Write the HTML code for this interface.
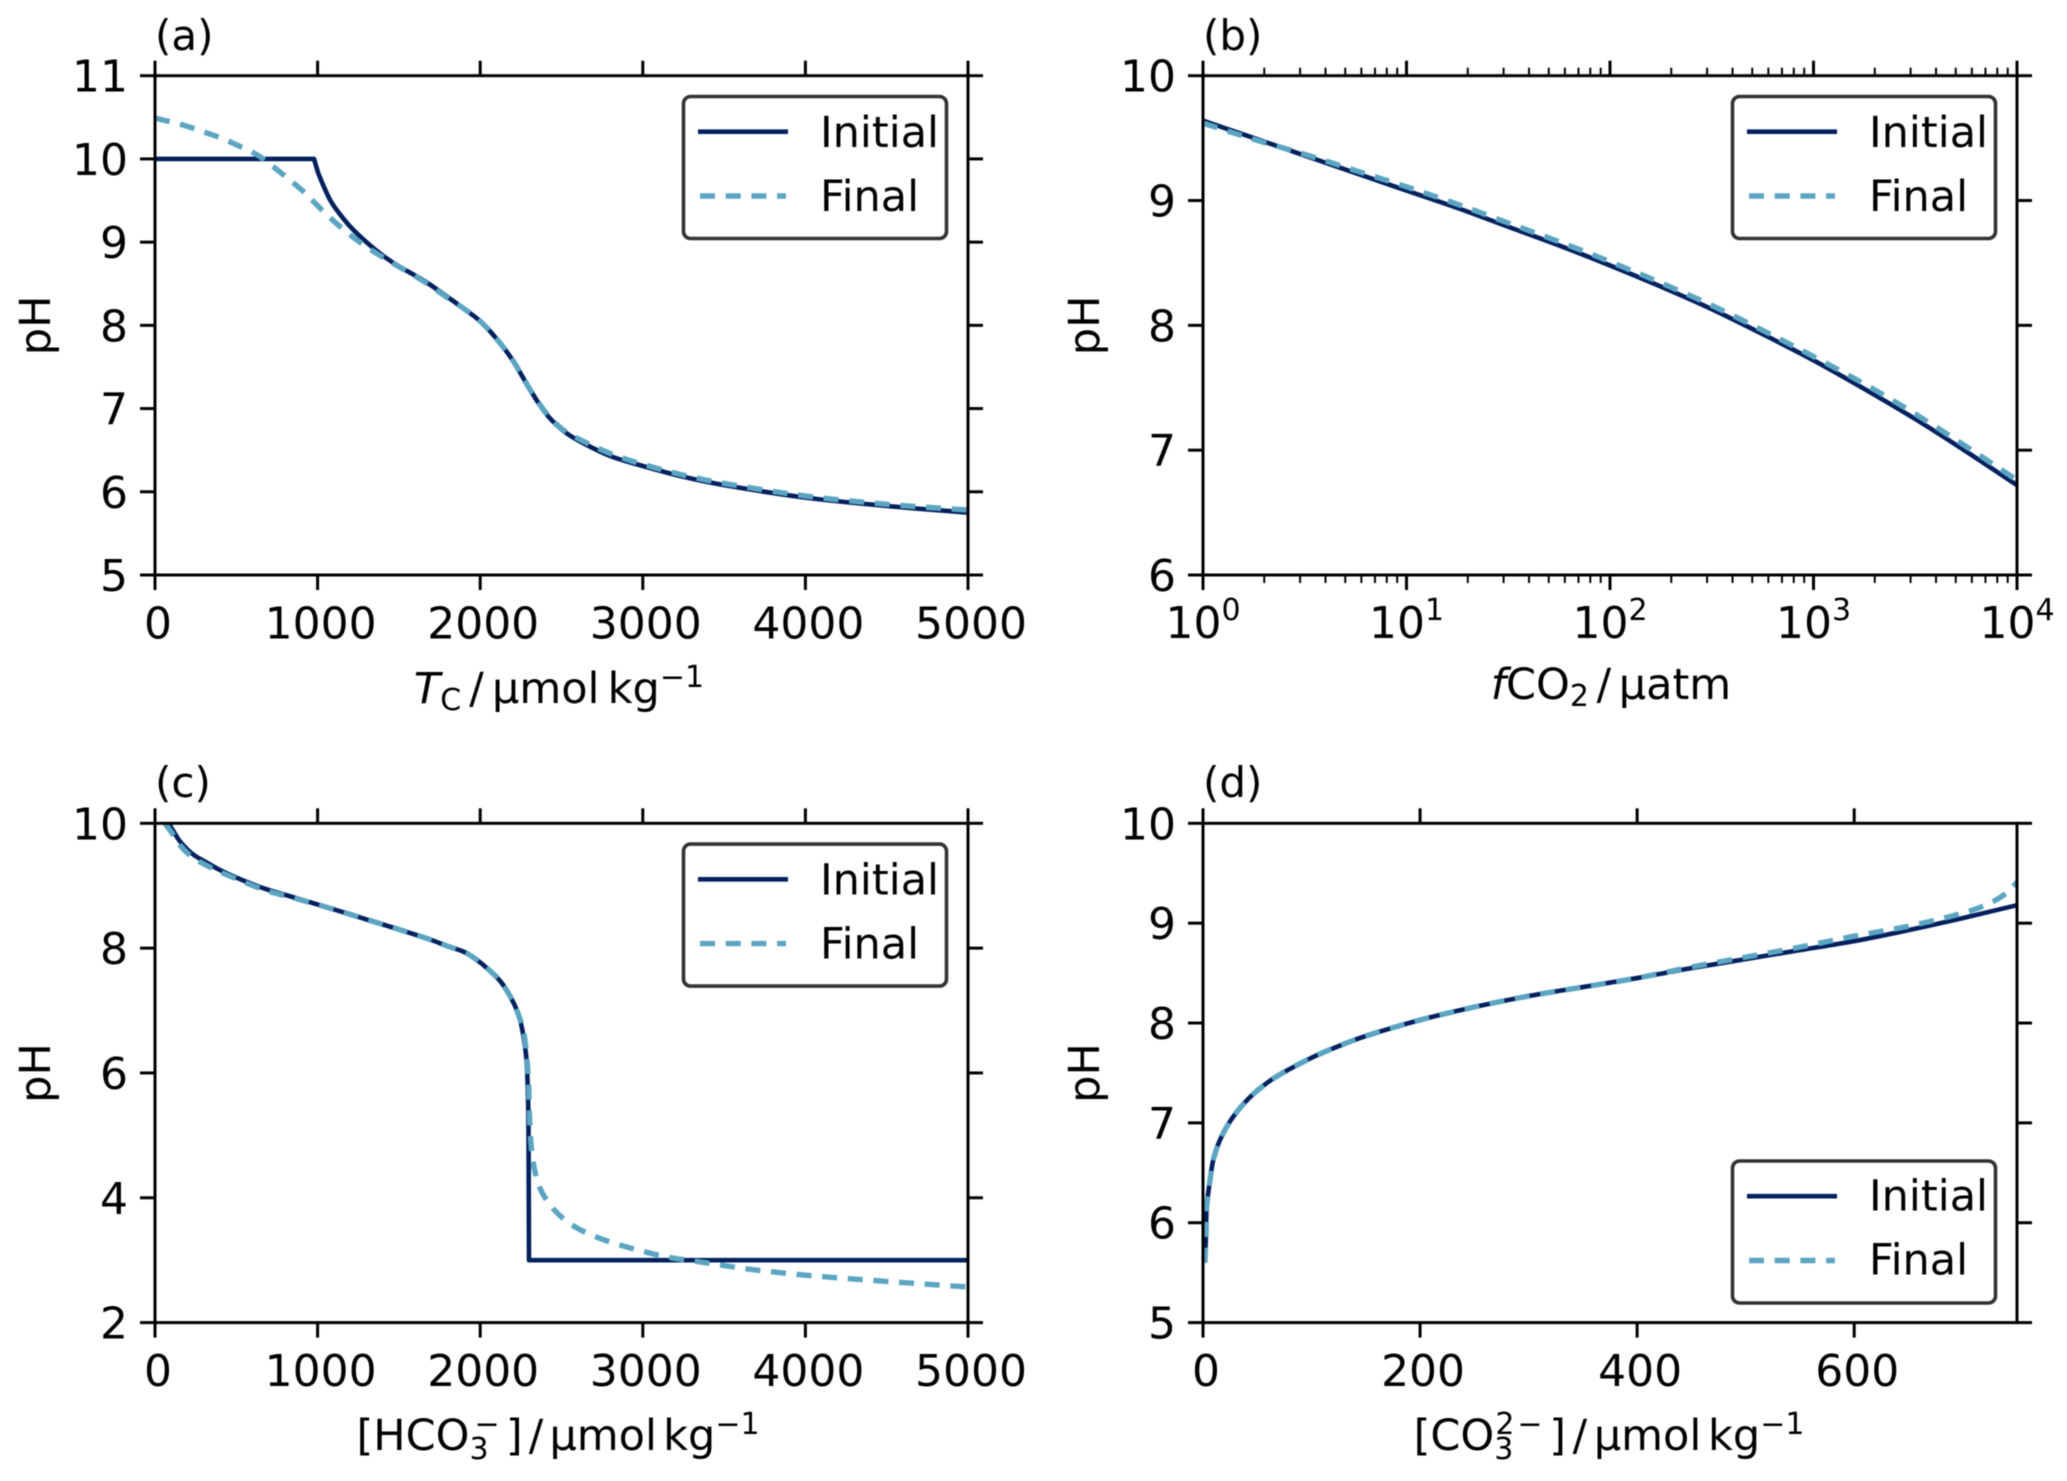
<!DOCTYPE html>
<html lang="en">
<head>
<meta charset="utf-8">
<title>pH comparison of initial and final conditions</title>
<style>
html,body{margin:0;padding:0;background:#fff;}
svg{display:block;filter:blur(0.4px);}
text{font-family:"DejaVu Sans","Liberation Sans",sans-serif;font-size:44px;fill:#000;}
text.title{font-size:43px;}
text.panel{font-size:42px;}
text.legend{font-size:43px;}
.sub{font-size:30px;}
</style>
</head>
<body>
<svg id="figure" xmlns="http://www.w3.org/2000/svg" width="2067" height="1481" viewBox="0 0 2067 1481">
  <rect x="0" y="0" width="2067" height="1481" fill="#fff"/>

  <g id="panel-a"></g>
  <g id="panel-b"></g>
  <g id="panel-c"></g>
  <g id="panel-d"></g>

  <text class="panel" x="155" y="50">(a)</text>
  <text class="panel" x="1203" y="50">(b)</text>
  <text class="panel" x="155" y="797">(c)</text>
  <text class="panel" x="1203" y="797">(d)</text>

  <text class="title" text-anchor="middle" transform="translate(50,325.4) rotate(-90)">pH</text>
  <text class="title" text-anchor="middle" transform="translate(1099,325.4) rotate(-90)">pH</text>
  <text class="title" text-anchor="middle" transform="translate(50,1073) rotate(-90)">pH</text>
  <text class="title" text-anchor="middle" transform="translate(1099,1073) rotate(-90)">pH</text>

  <text class="title" style="word-spacing:-5.5px" x="559" y="703" text-anchor="middle"><tspan font-style="italic">T</tspan><tspan class="sub" dy="7">C</tspan><tspan dy="-7"> / μmol kg</tspan><tspan class="sub" dy="-16">−1</tspan></text>
  <text class="title" style="word-spacing:-6px" x="1611" y="699" text-anchor="middle"><tspan font-style="italic">f</tspan>CO<tspan class="sub" dy="7">2</tspan><tspan dy="-7"> / μatm</tspan></text>
  <text class="title" style="word-spacing:-7.5px" x="558" y="1450" text-anchor="middle">[HCO<tspan class="sub" dy="9">3</tspan><tspan class="sub" dx="-14" dy="-25">−</tspan><tspan dy="16"> ] / μmol kg</tspan><tspan class="sub" dy="-16">−1</tspan></text>
  <text class="title" style="word-spacing:-7px" x="1609" y="1450" text-anchor="middle">[CO<tspan class="sub" dy="9">3</tspan><tspan class="sub" dx="-18" dy="-25">2</tspan><tspan class="sub" dx="3">−</tspan><tspan dy="16"> ] / μmol kg</tspan><tspan class="sub" dy="-16">−1</tspan></text>

  <g transform="translate(0,0)">
    <rect x="683.5" y="96.5" width="263" height="142" rx="7" fill="#fff" stroke="#333" stroke-width="3.6"/>
    <line x1="698" y1="131.7" x2="788" y2="131.7" stroke="#02205e" stroke-width="4.6"/>
    <text class="legend" x="820" y="147">Initial</text>
    <line x1="700" y1="196" x2="786" y2="196" stroke="#5ca5c2" stroke-width="5.4" stroke-dasharray="15 10.7"/>
    <text class="legend" x="820" y="211">Final</text>
  </g>
  <g transform="translate(1049,0)">
    <rect x="683.5" y="96.5" width="263" height="142" rx="7" fill="#fff" stroke="#333" stroke-width="3.6"/>
    <line x1="698" y1="131.7" x2="788" y2="131.7" stroke="#02205e" stroke-width="4.6"/>
    <text class="legend" x="820" y="147">Initial</text>
    <line x1="700" y1="196" x2="786" y2="196" stroke="#5ca5c2" stroke-width="5.4" stroke-dasharray="15 10.7"/>
    <text class="legend" x="820" y="211">Final</text>
  </g>
  <g transform="translate(0,747.6)">
    <rect x="683.5" y="96.5" width="263" height="142" rx="7" fill="#fff" stroke="#333" stroke-width="3.6"/>
    <line x1="698" y1="131.7" x2="788" y2="131.7" stroke="#02205e" stroke-width="4.6"/>
    <text class="legend" x="820" y="147">Initial</text>
    <line x1="700" y1="196" x2="786" y2="196" stroke="#5ca5c2" stroke-width="5.4" stroke-dasharray="15 10.7"/>
    <text class="legend" x="820" y="211">Final</text>
  </g>
  <g transform="translate(1049,1064.5)">
    <rect x="683.5" y="96.5" width="263" height="142" rx="7" fill="#fff" stroke="#333" stroke-width="3.6"/>
    <line x1="698" y1="131.7" x2="788" y2="131.7" stroke="#02205e" stroke-width="4.6"/>
    <text class="legend" x="820" y="146">Initial</text>
    <line x1="700" y1="196" x2="786" y2="196" stroke="#5ca5c2" stroke-width="5.4" stroke-dasharray="15 10.7"/>
    <text class="legend" x="820" y="210">Final</text>
  </g>
</svg>

<script>
// ---- Panel (a): pH vs total carbon ----
const aXTicks = [0, 1000, 2000, 3000, 4000, 5000];
const aYTicks = [5, 6, 7, 8, 9, 10, 11];
const aInitialX = [0, 978, 990, 1004, 1040, 1076, 1120, 1199, 1300, 1400, 1500, 1660, 1800, 1900, 2000, 2100, 2200, 2300, 2400, 2500, 2600, 2800, 3000, 3250, 3500, 4000, 4500, 5000];
const aInitialPH = [10, 10, 9.92, 9.83, 9.66, 9.51, 9.38, 9.19, 9.0, 8.84, 8.71, 8.53, 8.34, 8.2, 8.05, 7.84, 7.58, 7.25, 6.95, 6.75, 6.62, 6.43, 6.31, 6.18, 6.08, 5.93, 5.83, 5.75];
const aFinalX = [0, 150, 307, 420, 523, 600, 666, 789, 912, 1025, 1148, 1281, 1425, 1548, 1660, 1800, 1900, 2000, 2100, 2200, 2300, 2400, 2500, 2600, 2800, 3000, 3250, 3500, 4000, 4500, 5000];
const aFinalPH = [10.49, 10.42, 10.32, 10.24, 10.15, 10.08, 10.0, 9.81, 9.61, 9.39, 9.17, 8.97, 8.79, 8.65, 8.52, 8.33, 8.2, 8.05, 7.84, 7.58, 7.25, 6.96, 6.76, 6.64, 6.46, 6.33, 6.2, 6.1, 5.95, 5.85, 5.78];

// ---- Panel (b): pH vs fCO2 (log axis) ----
const bXTicks = [1, 10, 100, 1000, 10000];
const bXTickExponents = ['0', '1', '2', '3', '4'];
const bYTicks = [6, 7, 8, 9, 10];
const bMinorMultipliers = [2, 3, 4, 5, 6, 7, 8, 9];
const bFco2 = [1, 1.78, 3.16, 5.62, 10, 17.8, 31.6, 56.2, 100, 178, 316, 562, 1000, 1780, 3160, 5620, 10000];
const bInitialPH = [9.64, 9.5, 9.36, 9.22, 9.08, 8.94, 8.79, 8.64, 8.48, 8.31, 8.13, 7.93, 7.72, 7.49, 7.25, 6.99, 6.72];
const bFinalPH = [9.62, 9.49, 9.37, 9.24, 9.11, 8.97, 8.82, 8.67, 8.51, 8.34, 8.16, 7.96, 7.75, 7.53, 7.29, 7.03, 6.76];

// ---- Panel (c): pH vs bicarbonate ----
const cXTicks = [0, 1000, 2000, 3000, 4000, 5000];
const cYTicks = [2, 4, 6, 8, 10];
const cInitialX = [82, 100, 154, 230, 318, 400, 500, 666, 871, 1076, 1300, 1500, 1700, 1800, 1900, 1975, 2050, 2130, 2200, 2240, 2265, 2285, 2295, 2298, 2300, 5000];
const cInitialPH = [10, 9.93, 9.71, 9.51, 9.37, 9.25, 9.13, 8.96, 8.8, 8.64, 8.46, 8.3, 8.13, 8.03, 7.94, 7.82, 7.66, 7.45, 7.15, 6.9, 6.6, 6.2, 5.5, 4.5, 3, 3];
const cFinalX = [61, 100, 154, 210, 277, 420, 666, 871, 1076, 1300, 1500, 1700, 1800, 1900, 1975, 2050, 2130, 2200, 2240, 2268, 2288, 2298, 2302, 2310, 2327, 2368, 2454, 2573, 2716, 2864, 3018, 3172, 3332, 3485, 3640, 4000, 4500, 5000];
const cFinalPH = [10, 9.86, 9.65, 9.5, 9.38, 9.2, 8.94, 8.79, 8.64, 8.46, 8.3, 8.13, 8.03, 7.94, 7.82, 7.66, 7.45, 7.15, 6.9, 6.64, 6.2, 5.8, 5.38, 4.95, 4.55, 4.15, 3.81, 3.55, 3.37, 3.24, 3.13, 3.04, 2.98, 2.92, 2.86, 2.76, 2.66, 2.57];

// ---- Panel (d): pH vs carbonate ----
const dXTicks = [0, 200, 400, 600];
const dYTicks = [5, 6, 7, 8, 9, 10];
const dInitialX = [1.8, 2.8, 3.4, 6.5, 9.5, 15.7, 26.4, 41.7, 60.2, 80, 101.6, 123, 150, 200, 250, 300, 350, 400, 450, 500, 550, 600, 650, 700, 750];
const dInitialPH = [5.6, 5.9, 6.16, 6.43, 6.63, 6.83, 7.04, 7.24, 7.41, 7.54, 7.66, 7.76, 7.87, 8.03, 8.16, 8.27, 8.36, 8.45, 8.55, 8.64, 8.73, 8.82, 8.93, 9.05, 9.18];
const dFinalX = [1.8, 2.8, 3.4, 6.5, 9.5, 15.7, 26.4, 41.7, 60.2, 80, 101.6, 123, 150, 200, 250, 300, 350, 400, 450, 500, 550, 600, 650, 700, 725, 740, 750];
const dFinalPH = [5.6, 5.9, 6.16, 6.43, 6.63, 6.83, 7.04, 7.24, 7.41, 7.54, 7.66, 7.76, 7.87, 8.03, 8.16, 8.27, 8.36, 8.45, 8.56, 8.66, 8.76, 8.87, 8.97, 9.1, 9.2, 9.3, 9.41];

const SVG_NS = 'http://www.w3.org/2000/svg';
const INITIAL_COLOR = '#02205e';
const FINAL_COLOR = '#5ca5c2';

function linearScale(d0, d1, r0, r1) {
  return function (v) { return r0 + (v - d0) / (d1 - d0) * (r1 - r0); };
}
function logScale(d0, d1, r0, r1) {
  const a = Math.log10(d0), b = Math.log10(d1);
  return function (v) { return r0 + (Math.log10(v) - a) / (b - a) * (r1 - r0); };
}
function create(tag, parent) {
  const node = document.createElementNS(SVG_NS, tag);
  parent.appendChild(node);
  return node;
}
function tickLine(parent, x1, y1, x2, y2, width) {
  const tick = create('line', parent);
  tick.setAttribute('x1', x1);
  tick.setAttribute('y1', y1);
  tick.setAttribute('x2', x2);
  tick.setAttribute('y2', y2);
  tick.setAttribute('stroke', '#000');
  tick.setAttribute('stroke-width', width);
  
  
  return tick;
}
function unit(dx, dy) {
  const len = Math.hypot(dx, dy) || 1;
  return [dx / len, dy / len];
}
// Builds a smooth path through the data points; sharp bends stay sharp.
function smoothPath(px, py) {
  const n = px.length;
  const outT = [], inT = [];
  for (let i = 0; i < n; i++) {
    const prev = i > 0 ? unit(px[i] - px[i - 1], py[i] - py[i - 1]) : null;
    const next = i < n - 1 ? unit(px[i + 1] - px[i], py[i + 1] - py[i]) : null;
    if (!prev) { inT.push(next); outT.push(next); continue; }
    if (!next) { inT.push(prev); outT.push(prev); continue; }
    const cosine = prev[0] * next[0] + prev[1] * next[1];
    if (cosine < 0.72) { inT.push(prev); outT.push(next); continue; }
    const mid = unit(px[i + 1] - px[i - 1], py[i + 1] - py[i - 1]);
    inT.push(mid);
    outT.push(mid);
  }
  let d = 'M' + px[0].toFixed(2) + ' ' + py[0].toFixed(2);
  for (let i = 0; i < n - 1; i++) {
    const seg = Math.hypot(px[i + 1] - px[i], py[i + 1] - py[i]) / 3;
    d += ' C' + (px[i] + outT[i][0] * seg).toFixed(2) + ' ' + (py[i] + outT[i][1] * seg).toFixed(2) +
         ' ' + (px[i + 1] - inT[i + 1][0] * seg).toFixed(2) + ' ' + (py[i + 1] - inT[i + 1][1] * seg).toFixed(2) +
         ' ' + px[i + 1].toFixed(2) + ' ' + py[i + 1].toFixed(2);
  }
  return d;
}
function drawSeries(parent, xs, ys, sx, sy, color, dashed, name) {
  const path = create('path', parent);
  path.setAttribute('d', smoothPath(xs.map(sx), ys.map(sy)));
  path.setAttribute('fill', 'none');
  path.setAttribute('stroke', color);
  path.setAttribute('stroke-width', dashed ? 5.4 : 4.6);
  path.setAttribute('stroke-linejoin', 'round');
  if (dashed) path.setAttribute('stroke-dasharray', '15 10.7');
  
  
}
function drawAxes(parent, box, sx, sy, xTicks, yTicks, xExponents, xMinor) {
  xTicks.forEach(function (t, i) {
    const x = sx(t);
    tickLine(parent, x, box.bottom, x, box.bottom + 15, 3);
    tickLine(parent, x, box.top, x, box.top - 15, 3);
    const label = create('text', parent);
    label.setAttribute('text-anchor', 'middle');
    
    
    if (xExponents) {
      label.setAttribute('x', x);
      label.setAttribute('y', box.bottom + 63);
      label.textContent = '10';
      const sup = create('tspan', label);
      sup.setAttribute('class', 'sub');
      sup.setAttribute('dy', '-18');
      sup.textContent = xExponents[i];
    } else {
      label.setAttribute('x', x + 3);
      label.setAttribute('y', box.bottom + 63.5);
      label.textContent = String(t);
    }
  });
  if (xMinor) {
    xTicks.slice(0, -1).forEach(function (decade) {
      xMinor.forEach(function (m) {
        const x = sx(decade * m);
        tickLine(parent, x, box.bottom, x, box.bottom + 8, 2);
        tickLine(parent, x, box.top, x, box.top - 8, 2);
      });
    });
  }
  yTicks.forEach(function (t) {
    const y = sy(t);
    tickLine(parent, box.left, y, box.left - 15, y, 3);
    tickLine(parent, box.right, y, box.right + 15, y, 3);
    const label = create('text', parent);
    label.setAttribute('x', box.left - 27);
    label.setAttribute('y', y + 16);
    label.setAttribute('text-anchor', 'end');
    
    
    label.textContent = String(t);
  });
  const frame = create('rect', parent);
  frame.setAttribute('x', box.left);
  frame.setAttribute('y', box.top);
  frame.setAttribute('width', box.right - box.left);
  frame.setAttribute('height', box.bottom - box.top);
  frame.setAttribute('fill', 'none');
  frame.setAttribute('stroke', '#000');
  frame.setAttribute('stroke-width', 3);
  
  
}

// Panel (a)
(function () {
  const g = document.getElementById('panel-a');
  const box = { left: 155, right: 968, top: 75.7, bottom: 575 };
  const sx = linearScale(0, 5000, box.left, box.right);
  const sy = linearScale(5, 11, box.bottom, box.top);
  drawSeries(g, aInitialX, aInitialPH, sx, sy, INITIAL_COLOR, false, 'series-initial-a');
  drawSeries(g, aFinalX, aFinalPH, sx, sy, FINAL_COLOR, true, 'series-final-a');
  drawAxes(g, box, sx, sy, aXTicks, aYTicks, null, null);
})();

// Panel (b)
(function () {
  const g = document.getElementById('panel-b');
  const box = { left: 1203, right: 2017, top: 75.7, bottom: 575 };
  const sx = logScale(1, 10000, box.left, box.right);
  const sy = linearScale(6, 10, box.bottom, box.top);
  drawSeries(g, bFco2, bInitialPH, sx, sy, INITIAL_COLOR, false, 'series-initial-b');
  drawSeries(g, bFco2, bFinalPH, sx, sy, FINAL_COLOR, true, 'series-final-b');
  drawAxes(g, box, sx, sy, bXTicks, bYTicks, bXTickExponents, bMinorMultipliers);
})();

// Panel (c)
(function () {
  const g = document.getElementById('panel-c');
  const box = { left: 155, right: 968, top: 823.3, bottom: 1322.6 };
  const sx = linearScale(0, 5000, box.left, box.right);
  const sy = linearScale(2, 10, box.bottom, box.top);
  drawSeries(g, cInitialX, cInitialPH, sx, sy, INITIAL_COLOR, false, 'series-initial-c');
  drawSeries(g, cFinalX, cFinalPH, sx, sy, FINAL_COLOR, true, 'series-final-c');
  drawAxes(g, box, sx, sy, cXTicks, cYTicks, null, null);
})();

// Panel (d)
(function () {
  const g = document.getElementById('panel-d');
  const box = { left: 1203, right: 2017, top: 823.3, bottom: 1322.6 };
  const sx = linearScale(0, 750, box.left, box.right);
  const sy = linearScale(5, 10, box.bottom, box.top);
  drawSeries(g, dInitialX, dInitialPH, sx, sy, INITIAL_COLOR, false, 'series-initial-d');
  drawSeries(g, dFinalX, dFinalPH, sx, sy, FINAL_COLOR, true, 'series-final-d');
  drawAxes(g, box, sx, sy, dXTicks, dYTicks, null, null);
})();
</script>
</body>
</html>
